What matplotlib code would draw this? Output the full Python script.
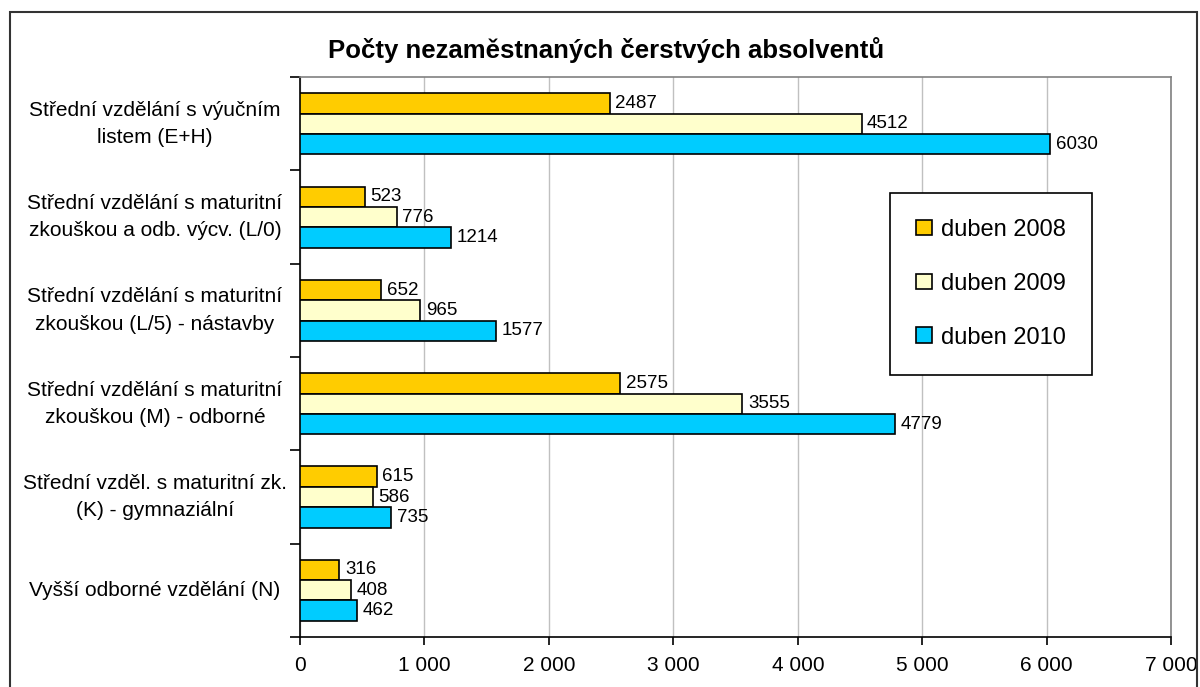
import matplotlib
matplotlib.use("Agg")
import matplotlib.pyplot as plt
import numpy as np
from matplotlib.ticker import FuncFormatter, FixedLocator
from matplotlib.patches import Rectangle
from matplotlib.transforms import blended_transform_factory

# data
categories = [
    "Střední vzdělání s výučním\nlistem (E+H)",
    "Střední vzdělání s maturitní\nzkouškou a odb. výcv. (L/0)",
    "Střední vzdělání s maturitní\nzkouškou (L/5) - nástavby",
    "Střední vzdělání s maturitní\nzkouškou (M) - odborné",
    "Střední vzděl. s maturitní zk.\n(K) - gymnaziální",
    "Vyšší odborné vzdělání (N)",
]
series_names = ["duben 2008", "duben 2009", "duben 2010"]
duben_2008 = [2487, 523, 652, 2575, 615, 316]
duben_2009 = [4512, 776, 965, 3555, 586, 408]
duben_2010 = [6030, 1214, 1577, 4779, 735, 462]
colors = ["#FFCC00", "#FFFFCC", "#00CCFF"]
title = "Počty nezaměstnaných čerstvých absolventů"

plt.rcParams["font.family"] = ["Liberation Sans", "DejaVu Sans"]

fig = plt.figure(figsize=(12, 6.87), dpi=100)
ax = fig.add_axes([0.25, 0.0728, 0.726, 0.815])

y = np.arange(len(categories))
h = 0.218
for i, (vals, name, col) in enumerate(zip([duben_2008, duben_2009, duben_2010], series_names, colors)):
    bars = ax.barh(y + (i - 1) * h, vals, height=h, color=col, edgecolor="black",
                   linewidth=1.2, label=name, zorder=3)
    ax.bar_label(bars, labels=[str(v) for v in vals], padding=4, fontsize=13.5)

ax.set_xlim(0, 7000)
ax.set_ylim(len(categories) - 0.5, -0.5)
ax.set_xticks(np.arange(0, 7001, 1000))
ax.xaxis.set_major_formatter(FuncFormatter(lambda v, p: f"{int(v):,}".replace(",", " ")))
ax.tick_params(axis="x", labelsize=15, length=6, width=1.2, pad=8, direction="out")
ax.xaxis.grid(True, color="#C0C0C0", linewidth=1, zorder=0)

ax.set_yticks([])
ax.yaxis.set_minor_locator(FixedLocator(np.arange(-0.5, len(categories), 1)))
ax.tick_params(axis="y", which="minor", length=7, width=1.2, direction="out")

for s in ["top", "right"]:
    ax.spines[s].set_color("#808080")
    ax.spines[s].set_linewidth(1.2)
for s in ["left", "bottom"]:
    ax.spines[s].set_color("black")
    ax.spines[s].set_linewidth(1.2)

tr = blended_transform_factory(fig.transFigure, ax.transData)
for yi, cat in zip(y, categories):
    ax.text(155 / 1200, yi, cat, transform=tr, ha="center", va="center",
            multialignment="center", fontsize=15, linespacing=1.55)

fig.text(0.505, 0.927, title, ha="center", va="center", fontsize=18.5, fontweight="bold")

leg = ax.legend(loc="center", bbox_to_anchor=(0.826, 0.587), bbox_transform=fig.transFigure,
                fontsize=17, frameon=True, fancybox=False, edgecolor="black",
                handlelength=0.65, handleheight=0.65, handletextpad=0.4,
                labelspacing=1.35, borderpad=1.1)
leg.get_frame().set_linewidth(1.2)
leg.get_frame().set_alpha(1)

fig.patches.append(Rectangle((10 / 1200, -0.02), 1187 / 1200, 0.02 + 1 - 12 / 687,
                             transform=fig.transFigure, fill=False,
                             edgecolor="#333333", linewidth=1.5))

fig.savefig("out.png", dpi=100)
